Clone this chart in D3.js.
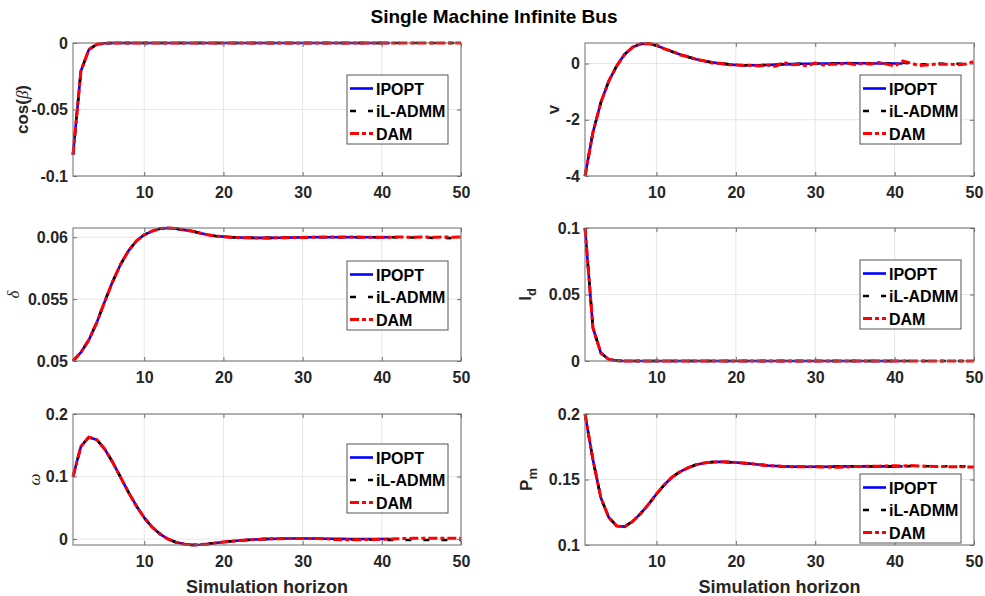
<!DOCTYPE html>
<html>
<head>
<meta charset="utf-8">
<script src="https://cdn.jsdelivr.net/npm/d3@7"></script>
<style>
  body { margin: 0; background: #fff; }
  text { font-family: "Liberation Sans", Arial, sans-serif; }
</style>
</head>
<body>
<div id="chart"></div>
<script>
// ---- data ----
const title = "Single Machine Infinite Bus";
const xTitle = "Simulation horizon";
const seriesNames = ["IPOPT", "iL-ADMM", "DAM"];

const steps = [1, 2, 3, 4, 5, 6, 7, 8, 9, 10,
  11, 12, 13, 14, 15, 16, 17, 18, 19, 20,
  21, 22, 23, 24, 25, 26, 27, 28, 29, 30,
  31, 32, 33, 34, 35, 36, 37, 38, 39, 40,
  41, 42, 43, 44, 45, 46, 47, 48, 49, 50];
const xTicks = [10, 20, 30, 40, 50];
const xTickLabels = ["10", "20", "30", "40", "50"];

// cos(beta)
const ipoptCosBeta = [-0.084, -0.021, -0.005, -0.001, -0.0002, 0, 0, 0, 0, 0,
  0, 0, 0, 0, 0, 0, 0, 0, 0, 0,
  0, 0, 0, 0, 0, 0, 0, 0, 0, 0,
  0, 0, 0, 0, 0, 0, 0, 0, 0, 0,
  0];
const iladmmCosBeta = [-0.084, -0.021, -0.005, -0.001, -0.0002, 0, 0, 0, 0, 0,
  0, 0, 0, 0, 0, 0, 0, 0, 0, 0,
  0, 0, 0, 0, 0, 0, 0, 0, 0, 0,
  0, 0, 0, 0, 0, 0, 0, 0, 0, 0,
  0, 0, 0, 0, 0, 0, 0, 0, 0, 0];
const damCosBeta = [-0.084, -0.021, -0.005, -0.001, -0.0002, 0, 0, 0, 0, 0,
  0, 0, 0, 0, 0, 0, 0, 0, 0, 0,
  0, 0, 0, 0, 0, 0, 0, 0, 0, 0,
  0, 0, 0, 0, 0, 0, 0, 0, 0, 0,
  0, 0, 0, 0, 0, 0, 0, 0, 0, 0];
const cosBetaTicks = [-0.1, -0.05, 0];
const cosBetaTickLabels = ["-0.1", "-0.05", "0"];

// v
const ipoptV = [-4.00, -2.45, -1.38, -0.62, -0.08, 0.33, 0.58, 0.70, 0.71, 0.64,
  0.53, 0.42, 0.32, 0.23, 0.15, 0.09, 0.04, 0.00, -0.03, -0.05,
  -0.06, -0.06, -0.06, -0.05, -0.04, -0.03, -0.02, -0.01, -0.01, 0.00,
  0.00, 0.00, 0.01, 0.01, 0.01, 0.01, 0.01, 0.00, 0.00, 0.00,
  0.00];
const iladmmV = [-4.00, -2.45, -1.38, -0.62, -0.08, 0.33, 0.58, 0.70, 0.71, 0.64,
  0.53, 0.42, 0.32, 0.23, 0.15, 0.09, 0.04, 0.01, -0.02, -0.05,
  -0.06, -0.07, -0.06, -0.05, -0.05, -0.02, -0.03, -0.01, -0.02, 0.00,
  -0.01, 0.01, 0.00, 0.02, 0.00, 0.02, 0.00, 0.01, 0.00, -0.02,
  0.03, 0.00, -0.04, -0.02, 0.01, -0.01, 0.00, -0.01, -0.01, 0.03];
const damV = [-4.00, -2.45, -1.38, -0.62, -0.08, 0.33, 0.58, 0.70, 0.71, 0.66,
  0.52, 0.44, 0.30, 0.25, 0.14, 0.10, 0.02, 0.01, -0.04, -0.04,
  -0.07, -0.06, -0.09, -0.05, -0.10, 0.04, -0.04, -0.03, -0.09, 0.02,
  -0.05, -0.03, -0.02, 0.02, -0.04, 0.01, -0.02, 0.04, -0.02, -0.09,
  0.09, 0.02, -0.07, -0.05, -0.03, -0.03, -0.02, -0.04, -0.02, 0.07];
const vTicks = [-4, -2, 0];
const vTickLabels = ["-4", "-2", "0"];

// delta
const ipoptDelta = [0.0500, 0.0507, 0.0517, 0.0531, 0.0548, 0.0564, 0.0578, 0.0589, 0.0597, 0.0602,
  0.0605, 0.0607, 0.06075, 0.0607, 0.0606, 0.0605, 0.06035, 0.0602, 0.0601, 0.06005,
  0.0600, 0.05998, 0.05996, 0.05995, 0.05995, 0.05995, 0.05996, 0.05997, 0.05998, 0.05999,
  0.0600, 0.0600, 0.0600, 0.0600, 0.0600, 0.0600, 0.0600, 0.0600, 0.0600, 0.0600,
  0.0600];
const iladmmDelta = [0.0500, 0.0507, 0.0517, 0.0531, 0.0548, 0.0564, 0.0578, 0.0589, 0.0597, 0.0602,
  0.0605, 0.0607, 0.06075, 0.0607, 0.0606, 0.0605, 0.06035, 0.0602, 0.0601, 0.06005,
  0.0600, 0.05998, 0.05996, 0.05995, 0.05995, 0.05995, 0.05996, 0.05997, 0.05998, 0.05999,
  0.0600, 0.0600, 0.0600, 0.0600, 0.0600, 0.0600, 0.0600, 0.0600, 0.0600, 0.0600,
  0.0600, 0.05999, 0.05998, 0.05998, 0.05997, 0.05996, 0.05995, 0.05994, 0.05993, 0.05992];
const damDelta = [0.0500, 0.0507, 0.0517, 0.0531, 0.0548, 0.0564, 0.0578, 0.0589, 0.0597, 0.0602,
  0.0605, 0.0607, 0.06075, 0.0607, 0.0606, 0.0605, 0.06035, 0.0602, 0.0601, 0.06005,
  0.0600, 0.05998, 0.05996, 0.05995, 0.05995, 0.05995, 0.05996, 0.05997, 0.05998, 0.05999,
  0.06001, 0.06002, 0.06003, 0.06003, 0.06003, 0.06002, 0.06002, 0.06001, 0.06001, 0.06001,
  0.06001, 0.06002, 0.06001, 0.06001, 0.06002, 0.06001, 0.06001, 0.06002, 0.06001, 0.06002];
const deltaTicks = [0.05, 0.055, 0.06];
const deltaTickLabels = ["0.05", "0.055", "0.06"];

// I_d
const ipoptId = [0.1, 0.025, 0.006, 0.0012, 0.0002, 0, 0, 0, 0, 0,
  0, 0, 0, 0, 0, 0, 0, 0, 0, 0,
  0, 0, 0, 0, 0, 0, 0, 0, 0, 0,
  0, 0, 0, 0, 0, 0, 0, 0, 0, 0,
  0];
const iladmmId = [0.1, 0.025, 0.006, 0.0012, 0.0002, 0, 0, 0, 0, 0,
  0, 0, 0, 0, 0, 0, 0, 0, 0, 0,
  0, 0, 0, 0, 0, 0, 0, 0, 0, 0,
  0, 0, 0, 0, 0, 0, 0, 0, 0, 0,
  0, 0, 0, 0, 0, 0, 0, 0, 0, 0];
const damId = [0.1, 0.025, 0.006, 0.0012, 0.0002, 0, 0, 0, 0, 0,
  0, 0, 0, 0, 0, 0, 0, 0, 0, 0,
  0, 0, 0, 0, 0, 0, 0, 0, 0, 0,
  0, 0, 0, 0, 0, 0, 0, 0, 0, 0,
  0, 0, 0, 0, 0, 0, 0, 0, 0, 0];
const idTicks = [0, 0.05, 0.1];
const idTickLabels = ["0", "0.05", "0.1"];

// omega
const ipoptOmega = [0.100, 0.148, 0.163, 0.159, 0.144, 0.123, 0.099, 0.075, 0.053, 0.034,
  0.019, 0.008, 0.000, -0.005, -0.008, -0.0095, -0.009, -0.0078, -0.0063, -0.0048,
  -0.0035, -0.0024, -0.0015, -0.0007, -0.0001, 0.0003, 0.0006, 0.0008, 0.0009, 0.0009,
  0.0008, 0.0007, 0.0006, 0.0004, 0.0003, 0.0002, 0.0001, 0.0000, 0.0000, 0.0000,
  0.0000];
const iladmmOmega = [0.100, 0.148, 0.163, 0.159, 0.144, 0.123, 0.099, 0.075, 0.053, 0.034,
  0.019, 0.008, 0.000, -0.005, -0.008, -0.0095, -0.009, -0.0078, -0.0063, -0.0048,
  -0.0035, -0.0024, -0.0015, -0.0007, -0.0001, 0.0003, 0.0006, 0.0008, 0.0009, 0.0009,
  0.0008, 0.0007, 0.0006, -0.0003, -0.0006, -0.0008, -0.0010, -0.0011, -0.0012, -0.0012,
  -0.0013, -0.0013, -0.0014, -0.0014, -0.0015, -0.0015, -0.0015, -0.0016, -0.0016, -0.0016];
const damOmega = [0.100, 0.148, 0.163, 0.159, 0.144, 0.123, 0.099, 0.075, 0.053, 0.034,
  0.019, 0.008, 0.000, -0.005, -0.008, -0.0095, -0.009, -0.0078, -0.0063, -0.0048,
  -0.0035, -0.0024, -0.0015, -0.0007, -0.0001, 0.0003, 0.0006, 0.0008, 0.0009, 0.0009,
  0.0008, 0.0007, 0.0006, -0.0008, -0.0010, -0.0012, -0.0011, -0.0009, -0.0006, -0.0002,
  0.0002, 0.0006, 0.0009, 0.0011, 0.0013, 0.0014, 0.0014, 0.0013, 0.0012, 0.0012];
const omegaTicks = [0, 0.1, 0.2];
const omegaTickLabels = ["0", "0.1", "0.2"];

// P_m
const ipoptPm = [0.200, 0.165, 0.136, 0.121, 0.1145, 0.1140, 0.118, 0.124, 0.131, 0.139,
  0.146, 0.152, 0.156, 0.159, 0.1613, 0.1626, 0.1633, 0.1635, 0.1633, 0.1630,
  0.1625, 0.1620, 0.1613, 0.1607, 0.1603, 0.1600, 0.1598, 0.1597, 0.1597, 0.1597,
  0.1597, 0.1598, 0.1599, 0.1600, 0.1600, 0.1600, 0.1600, 0.1600, 0.1600, 0.1600,
  0.1600];
const iladmmPm = [0.200, 0.165, 0.136, 0.121, 0.1145, 0.1140, 0.118, 0.124, 0.131, 0.139,
  0.146, 0.152, 0.156, 0.159, 0.1613, 0.1626, 0.1633, 0.1635, 0.1633, 0.1630,
  0.1625, 0.1620, 0.1613, 0.1607, 0.1603, 0.1600, 0.1598, 0.1597, 0.1597, 0.1597,
  0.1597, 0.1598, 0.1599, 0.1600, 0.1600, 0.1600, 0.1600, 0.1600, 0.1600, 0.1600,
  0.1601, 0.1602, 0.1602, 0.1601, 0.1600, 0.1600, 0.1601, 0.1600, 0.1600, 0.1600];
const damPm = [0.200, 0.165, 0.136, 0.121, 0.1145, 0.1140, 0.118, 0.124, 0.131, 0.139,
  0.146, 0.152, 0.156, 0.159, 0.1613, 0.1626, 0.1633, 0.1635, 0.1633, 0.1630,
  0.1625, 0.1620, 0.1613, 0.1607, 0.1603, 0.1600, 0.1598, 0.1597, 0.1597, 0.1597,
  0.1596, 0.1594, 0.1593, 0.1596, 0.1599, 0.1600, 0.1601, 0.1602, 0.1604, 0.1605,
  0.1603, 0.1606, 0.1604, 0.1601, 0.1599, 0.1600, 0.1597, 0.1598, 0.1596, 0.1595];
const pmTicks = [0.1, 0.15, 0.2];
const pmTickLabels = ["0.1", "0.15", "0.2"];

// ---- layout / styles ----
const width = 985, height = 596;
const cols = [{left: 73, right: 461}, {left: 585, right: 974}];
const rows = [{top: 43, bottom: 176}, {top: 228, bottom: 361}, {top: 414, bottom: 545}];
const seriesStyles = [
  {color: "#0000ff", width: 2.6, dash: null},
  {color: "#000000", width: 2.6, dash: "6,12"},
  {color: "#ff0000", width: 3, dash: "9,3,4,3"}
];
const tickColor = "#262626";
const bold = {weight: "bold"};
const greek = {style: "italic", family: "'Liberation Serif', 'DejaVu Serif', serif", weight: "normal"};

const panels = [
  {col: 0, row: 0, yDomain: [-0.1, 0], yTicks: cosBetaTicks, yTickLabels: cosBetaTickLabels,
   series: [ipoptCosBeta, iladmmCosBeta, damCosBeta], labelDx: -51, legendTop: 32,
   label: [{t: "cos(", ...bold}, {t: "β", ...greek}, {t: ")", ...bold}]},
  {col: 1, row: 0, yDomain: [-4, 0.73], yTicks: vTicks, yTickLabels: vTickLabels,
   series: [ipoptV, iladmmV, damV], labelDx: -32, legendTop: 32,
   label: [{t: "v", ...bold}]},
  {col: 0, row: 1, yDomain: [0.05, 0.06075], yTicks: deltaTicks, yTickLabels: deltaTickLabels,
   series: [ipoptDelta, iladmmDelta, damDelta], labelDx: -60, legendTop: 33,
   label: [{t: "δ", ...greek}]},
  {col: 1, row: 1, yDomain: [0, 0.1], yTicks: idTicks, yTickLabels: idTickLabels,
   series: [ipoptId, iladmmId, damId], labelDx: -60, legendTop: 32,
   label: [{t: "I", ...bold}, {t: "d", ...bold, sub: true}]},
  {col: 0, row: 2, yDomain: [-0.0095, 0.2], yTicks: omegaTicks, yTickLabels: omegaTickLabels,
   series: [ipoptOmega, iladmmOmega, damOmega], labelDx: -39, legendTop: 30,
   label: [{t: "ω", ...greek}]},
  {col: 1, row: 2, yDomain: [0.1, 0.2], yTicks: pmTicks, yTickLabels: pmTickLabels,
   series: [ipoptPm, iladmmPm, damPm], labelDx: -59, legendTop: 60,
   label: [{t: "P", ...bold}, {t: "m", ...bold, sub: true}]}
];

const svg = d3.select("#chart").append("svg")
    .attr("width", width)
    .attr("height", height);

svg.append("text")
    .attr("x", 494).attr("y", 23)
    .attr("text-anchor", "middle")
    .attr("font-size", 19).attr("font-weight", "bold")
    .attr("fill", "#000")
    .text(title);

function styleAxis(g) {
    g.select(".domain").remove();
    g.attr("font-family", "'Liberation Sans', Arial, sans-serif")
     .attr("font-size", 16)
     .attr("font-weight", "bold")
     .attr("color", tickColor);
    g.selectAll(".tick line").attr("stroke", "#6e6e6e");
}

panels.forEach(p => {
    const c = cols[p.col], r = rows[p.row];
    const x = d3.scaleLinear().domain([1, 50]).range([c.left, c.right]);
    const y = d3.scaleLinear().domain(p.yDomain).range([r.bottom, r.top]);
    const g = svg.append("g");

    // grid
    g.append("g").selectAll("line").data(xTicks).join("line")
        .attr("x1", d => x(d)).attr("x2", d => x(d))
        .attr("y1", r.top).attr("y2", r.bottom)
        .attr("stroke", "#e6e6e6");
    g.append("g").selectAll("line").data(p.yTicks).join("line")
        .attr("x1", c.left).attr("x2", c.right)
        .attr("y1", d => y(d)).attr("y2", d => y(d))
        .attr("stroke", "#e6e6e6");

    // series
    p.series.forEach((vals, i) => {
        const st = seriesStyles[i];
        const line = d3.line()
            .x((d, j) => x(steps[j]))
            .y(d => y(d));
        g.append("path")
            .datum(vals)
            .attr("fill", "none")
            .attr("stroke", st.color)
            .attr("stroke-width", st.width)
            .attr("stroke-dasharray", st.dash)
            .attr("stroke-linejoin", "round")
            .attr("d", line);
    });

    // frame
    g.append("rect")
        .attr("x", c.left).attr("y", r.top)
        .attr("width", c.right - c.left).attr("height", r.bottom - r.top)
        .attr("fill", "none").attr("stroke", "#6e6e6e");

    // axes (MATLAB-like inward ticks on all sides)
    g.append("g").attr("transform", "translate(0," + r.bottom + ")")
        .call(d3.axisBottom(x).tickValues(xTicks).tickFormat((d, i) => xTickLabels[i]).tickSize(-4).tickPadding(11))
        .call(styleAxis);
    g.append("g").attr("transform", "translate(0," + r.top + ")")
        .call(d3.axisTop(x).tickValues(xTicks).tickFormat("").tickSize(-4))
        .call(styleAxis);
    g.append("g").attr("transform", "translate(" + c.left + ",0)")
        .call(d3.axisLeft(y).tickValues(p.yTicks).tickFormat((d, i) => p.yTickLabels[i]).tickSize(-4).tickPadding(5))
        .call(styleAxis);
    g.append("g").attr("transform", "translate(" + c.right + ",0)")
        .call(d3.axisRight(y).tickValues(p.yTicks).tickFormat("").tickSize(-4))
        .call(styleAxis);

    // y label
    const lx = c.left + p.labelDx, ly = (r.top + r.bottom) / 2;
    const lab = g.append("text")
        .attr("transform", "translate(" + lx + "," + ly + ") rotate(-90)")
        .attr("text-anchor", "middle")
        .attr("dy", "0.35em")
        .attr("font-size", 17)
        .attr("fill", tickColor);
    p.label.forEach(part => {
        const ts = lab.append("tspan")
            .attr("font-weight", part.weight)
            .text(part.t);
        if (part.style) ts.attr("font-style", part.style);
        if (part.family) ts.attr("font-family", part.family);
        if (part.sub) ts.attr("font-size", 13).attr("dy", "0.35em");
    });

    // x label on the bottom row
    if (p.row === 2) {
        g.append("text")
            .attr("x", (c.left + c.right) / 2).attr("y", 593)
            .attr("text-anchor", "middle")
            .attr("font-size", 18).attr("font-weight", "bold")
            .attr("fill", tickColor)
            .text(xTitle);
    }

    // legend
    const lgX = c.right - 114, lgY = r.top + p.legendTop;
    const lg = g.append("g").attr("transform", "translate(" + lgX + "," + lgY + ")");
    lg.append("rect")
        .attr("width", 101).attr("height", 69)
        .attr("fill", "#fff").attr("stroke", "#555");
    const rowY = [13.5, 36, 58.5];
    seriesNames.forEach((name, i) => {
        const st = seriesStyles[i];
        lg.append("line")
            .attr("x1", 3).attr("x2", 26)
            .attr("y1", rowY[i]).attr("y2", rowY[i])
            .attr("stroke", st.color)
            .attr("stroke-width", st.width)
            .attr("stroke-dasharray", st.dash);
        lg.append("text")
            .attr("x", 29).attr("y", rowY[i] + 6)
            .attr("font-size", 16).attr("font-weight", "bold")
            .attr("fill", "#000")
            .text(name);
    });
});
</script>
</body>
</html>
